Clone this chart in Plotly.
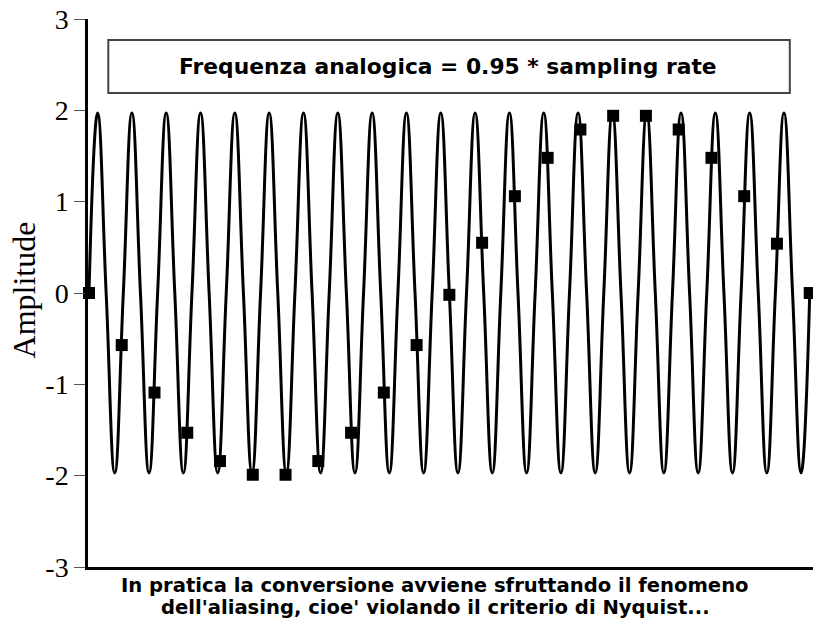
import plotly.graph_objects as go

# Continuous analog signal: points read at quarter periods (zero crossings, peaks, troughs)
wave_x = [0.000, 0.262, 0.524, 0.786, 1.048, 1.310, 1.571, 1.833, 2.095, 2.357,
          2.619, 2.881, 3.143, 3.405, 3.667, 3.929, 4.190, 4.452, 4.714, 4.976,
          5.238, 5.500, 5.762, 6.024, 6.286, 6.548, 6.810, 7.071, 7.333, 7.595,
          7.857, 8.119, 8.381, 8.643, 8.905, 9.167, 9.429, 9.690, 9.952, 10.214,
          10.476, 10.738, 11.000, 11.262, 11.524, 11.786, 12.048, 12.310, 12.571, 12.833,
          13.095, 13.357, 13.619, 13.881, 14.143, 14.405, 14.667, 14.929, 15.190, 15.452,
          15.714, 15.976, 16.238, 16.500, 16.762, 17.024, 17.286, 17.548, 17.810, 18.071,
          18.333, 18.595, 18.857, 19.119, 19.381, 19.643, 19.905, 20.167, 20.429, 20.690,
          20.952, 21.214, 21.476, 21.738, 22.000]
wave_y = [0, 1.97, 0, -1.97, 0, 1.97, 0, -1.97, 0, 1.97,
          0, -1.97, 0, 1.97, 0, -1.97, 0, 1.97, 0, -1.97,
          0, 1.97, 0, -1.97, 0, 1.97, 0, -1.97, 0, 1.97,
          0, -1.97, 0, 1.97, 0, -1.97, 0, 1.97, 0, -1.97,
          0, 1.97, 0, -1.97, 0, 1.97, 0, -1.97, 0, 1.97,
          0, -1.97, 0, 1.97, 0, -1.97, 0, 1.97, 0, -1.97,
          0, 1.97, 0, -1.97, 0, 1.97, 0, -1.97, 0, 1.97,
          0, -1.97, 0, 1.97, 0, -1.97, 0, 1.97, 0, -1.97,
          0, 1.97, 0, -1.97, 0]

# Samples taken at the sampling rate
sample_n = [0, 1, 2, 3, 4, 5, 6, 7, 8, 9, 10, 11,
            12, 13, 14, 15, 16, 17, 18, 19, 20, 21, 22]
sample_y = [0.0, -0.57, -1.09, -1.53, -1.84, -1.99, -1.99, -1.84, -1.53, -1.09, -0.57, -0.02,
            0.55, 1.06, 1.48, 1.79, 1.94, 1.94, 1.79, 1.48, 1.06, 0.54, 0.0]

ytick_vals = [-3, -2, -1, 0, 1, 2, 3]
ytick_text = ["-3", "-2", "-1", "0", "1", "2", "3"]

box_text = "Frequenza analogica = 0.95 * sampling rate"
caption_1 = "In pratica la conversione avviene sfruttando il fenomeno"
caption_2 = "dell'aliasing, cioe' violando il criterio di Nyquist..."
y_title = "Amplitude"

fig = go.Figure()
fig.add_trace(go.Scatter(
    x=wave_x, y=wave_y, mode="lines",
    line=dict(color="black", width=3, shape="spline", smoothing=1.3),
    hoverinfo="skip", showlegend=False, cliponaxis=True))
fig.add_trace(go.Scatter(
    x=sample_n, y=sample_y, mode="markers",
    marker=dict(symbol="square", size=12, color="black"),
    showlegend=False, cliponaxis=False))

fig.add_shape(type="rect", xref="paper", yref="y",
              x0=0.028, x1=0.968, y0=2.19, y1=2.77,
              line=dict(color="#444", width=2), fillcolor="white", layer="below")
fig.add_annotation(xref="paper", yref="y", x=0.497, y=2.48, text=box_text,
                   showarrow=False, xanchor="center", yanchor="middle",
                   font=dict(family="DejaVu Sans", size=21.8, color="black", weight="bold"))

fig.add_annotation(xref="paper", yref="paper", x=0.479, y=-0.033, text=caption_1,
                   showarrow=False, xanchor="center", yanchor="middle",
                   font=dict(family="DejaVu Sans", size=19.6, color="black", weight="bold"))
fig.add_annotation(xref="paper", yref="paper", x=0.479, y=-0.073, text=caption_2,
                   showarrow=False, xanchor="center", yanchor="middle",
                   font=dict(family="DejaVu Sans", size=19.6, color="black", weight="bold"))

fig.add_annotation(xref="paper", yref="paper", x=-0.088, y=0.505, text=y_title,
                   showarrow=False, textangle=-90, xanchor="center", yanchor="middle",
                   font=dict(family="Liberation Serif", size=32, color="black"))

fig.update_xaxes(range=[-0.03, 22.1], showgrid=False, zeroline=False,
                 showline=True, linecolor="black", linewidth=2.5,
                 showticklabels=False, ticks="", automargin=False)
fig.update_yaxes(range=[-3, 3], showgrid=False, zeroline=False,
                 showline=True, linecolor="black", linewidth=2.5,
                 tickvals=ytick_vals, ticktext=ytick_text,
                 ticks="outside", ticklen=11, tickwidth=1, tickcolor="#555",
                 ticklabelstandoff=0, automargin=False, ticklabeloverflow="allow",
                 tickfont=dict(family="Liberation Serif", size=28, color="black"))

fig.update_layout(width=813, height=623,
                  margin=dict(l=88, r=0, t=19, b=56),
                  paper_bgcolor="white", plot_bgcolor="white")

# remove the default 8px page margin so the figure sits at the window's corner
fig.write_html("out.html",
               config=dict(displayModeBar=False),
               post_script="document.body.style.margin='0px';document.body.style.overflow='hidden';")
